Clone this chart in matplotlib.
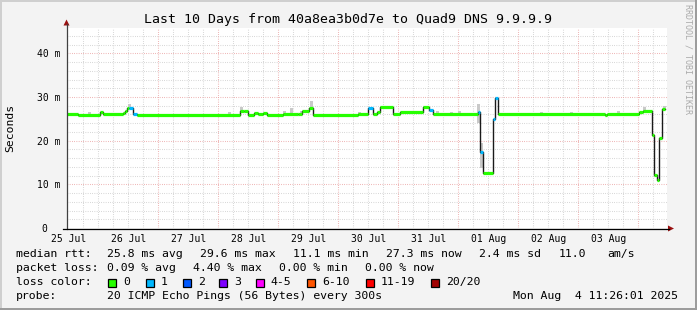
import matplotlib
matplotlib.use('Agg')
import matplotlib.pyplot as plt
from matplotlib.patches import Rectangle, Polygon

# time axis: hours after Fri Jul 25 11:26:01 2025 (10 days window)
seg_hours = [0.0, 4.4, 13.2, 14.4, 22.4, 23.2, 24.0, 24.8, 26.4, 28.0,
             69.2, 70.8, 72.4, 74.8, 76.4, 78.4, 80.0, 86.4, 92.4, 94.0,
             96.8, 98.4, 116.4, 120.4, 122.4, 124.0, 125.2, 130.4, 133.2, 142.4,
             144.8, 146.4, 164.4, 165.2, 166.4, 170.4, 171.2, 172.4, 215.2, 216.0,
             228.8, 230.4, 234.0, 234.8, 236.0, 236.8, 238.0, 239.2]
median_ms = [26.1, 25.9, 26.5, 26.1, 26.4, 26.9, 27.4, 27.5, 26.0, 25.9,
             26.9, 26.7, 25.9, 26.4, 26.1, 26.4, 25.9, 26.1, 26.2, 26.7,
             27.4, 25.9, 26.2, 27.5, 26.1, 26.6, 27.6, 26.0, 26.6, 27.6,
             27.0, 26.1, 26.5, 17.5, 12.6, 24.9, 29.7, 26.1, 25.9, 26.1,
             26.6, 26.8, 21.3, 12.2, 11.0, 20.6, 27.3]
loss_class = [0, 0, 0, 0, 0, 0, 0, 1, 1, 0,
              0, 0, 0, 0, 0, 0, 0, 0, 0, 0,
              0, 0, 0, 1, 0, 0, 0, 0, 0, 0,
              1, 0, 1, 1, 0, 1, 1, 0, 0, 0,
              0, 0, 0, 0, 0, 0, 0]

# smoke (ping spread) patches
smoke_hours = [8.4, 24.4, 64.4, 69.2, 86.4, 89.2, 93.2, 97.2, 116.4, 127.2,
               147.6, 153.2, 156.4, 164.0, 164.0, 165.2, 189.2, 201.2, 220.0, 230.4, 238.4]
smoke_lo = [26.0, 27.6, 25.9, 26.9, 26.1, 26.1, 26.2, 27.4, 26.2, 27.6,
            26.1, 26.1, 26.1, 26.5, 24.0, 13.8, 26.1, 26.1, 26.1, 26.8, 27.3]
smoke_hi = [26.6, 28.3, 26.5, 27.6, 26.9, 27.4, 26.9, 29.0, 26.6, 28.0,
            26.9, 26.5, 26.8, 28.3, 26.5, 19.5, 26.5, 26.5, 26.9, 27.6, 28.0]

day_labels = ['25 Jul', '26 Jul', '27 Jul', '28 Jul', '29 Jul',
              '30 Jul', '31 Jul', '01 Aug', '02 Aug', '03 Aug']
first_noon = 0.566
first_midnight = 12.566

loss_names = ['0', '1', '2', '3', '4-5', '6-10', '11-19', '20/20']
loss_colors = ['#26ff00', '#00b8ff', '#0059ff', '#7e00ff', '#ff00ff', '#ff5500', '#ff0000', '#a10000']

W, H = 697, 310
MONO = 'DejaVu Sans Mono'
plt.rcParams['font.family'] = MONO


def fx(x):
    return x / W


def fy(y):
    return 1 - y / H


fig = plt.figure(figsize=(W / 100, H / 100), dpi=100)
fig.patch.set_facecolor('#f3f3f3')

# 3d-ish border
fig.patches.append(Rectangle((0, fy(2)), 1, 2 / H, transform=fig.transFigure, color='#cfcfcf', lw=0))
fig.patches.append(Rectangle((0, 0), 2 / W, 1, transform=fig.transFigure, color='#cfcfcf', lw=0))
fig.patches.append(Rectangle((0, 0), 1, 2 / H, transform=fig.transFigure, color='#9c9c9c', lw=0))
fig.patches.append(Rectangle((1 - 2 / W, 0), 2 / W, 1, transform=fig.transFigure, color='#9c9c9c', lw=0))

ax = fig.add_axes([fx(67), fy(228), 600 / W, 200 / H])
ax.set_facecolor('white')
ax.set_xlim(0, 240)
ax.set_ylim(0, 45.8)
for s in ax.spines.values():
    s.set_visible(False)

# grid
dots = (0, (0.72, 1.44))
for v in range(2, 46, 2):
    if v % 10 == 0:
        ax.axhline(v, color='#eba3a3', lw=0.75, ls=dots, zorder=1)
    else:
        ax.axhline(v, color='#cdcdcd', lw=0.75, ls=dots, zorder=0.5)
h = first_noon + 6
while h < 240:
    if abs((h - first_midnight) % 24) < 0.01:
        ax.axvline(h, color='#eba3a3', lw=0.75, ls=dots, zorder=1)
    else:
        ax.axvline(h, color='#cdcdcd', lw=0.75, ls=dots, zorder=0.5)
    h += 6

# smoke
for t, lo, hi in zip(smoke_hours, smoke_lo, smoke_hi):
    ax.bar(t, hi - lo, bottom=lo, width=1.2, align='edge', color='#c9c9c9', lw=0, zorder=2)

# median: thin black step line, then loss-coloured segments
xs, ys = [], []
for i, v in enumerate(median_ms):
    xs += [seg_hours[i], seg_hours[i + 1]]
    ys += [v, v]
ax.plot(xs, ys, color='#1a1a1a', lw=1.0, zorder=3)
for i, v in enumerate(median_ms):
    ax.plot([seg_hours[i], seg_hours[i + 1]], [v, v], color=loss_colors[loss_class[i]],
            lw=2.3, solid_capstyle='butt', zorder=4)

# ticks
ax.set_yticks([0, 10, 20, 30, 40])
ax.set_yticklabels(['0  ', '10 m', '20 m', '30 m', '40 m'])
ax.set_xticks([first_noon + 24 * k for k in range(len(day_labels))])
ax.set_xticklabels(day_labels)
ax.tick_params(axis='both', length=0, labelsize=7, colors='#000000')
ax.tick_params(axis='y', pad=5)
ax.tick_params(axis='x', pad=4)

# axis lines + arrows
fig.add_artist(plt.Line2D([fx(66.5), fx(66.5)], [fy(229), fy(24)], transform=fig.transFigure,
                          color='#404040', lw=0.9))
fig.add_artist(plt.Line2D([fx(63), fx(669)], [fy(228.5), fy(228.5)], transform=fig.transFigure,
                          color='#000000', lw=0.9))
fig.patches.append(Polygon([(fx(66.5), fy(19.5)), (fx(63.5), fy(25.5)), (fx(69.5), fy(25.5))],
                           closed=True, transform=fig.transFigure, color='#9a1010', lw=0))
fig.patches.append(Polygon([(fx(674), fy(228.5)), (fx(668), fy(225.5)), (fx(668), fy(231.5))],
                           closed=True, transform=fig.transFigure, color='#9a1010', lw=0))

# titles
fig.text(fx(348.5), fy(19), 'Last 10 Days from 40a8ea3b0d7e to Quad9 DNS 9.9.9.9',
         ha='center', va='center', fontsize=9.5)
fig.text(fx(10.5), fy(127.5), 'Seconds', rotation=90, ha='center', va='center', fontsize=8.2)
fig.text(fx(688), fy(4), 'RRDTOOL / TOBI OETIKER', rotation=270, ha='center', va='top',
         fontsize=6, color='#aaaaaa')

# legend rows
fs = 8.25
rows = [
    (254.3, [(16, 'median rtt:'), (107.3, '25.8 ms avg'), (200, '29.6 ms max'),
             (293.3, '11.1 ms min'), (386, '27.3 ms now'), (479, '2.4 ms sd'),
             (558.3, '11.0'), (607.7, 'am/s')]),
    (268.3, [(16, 'packet loss:'), (107.3, '0.09 % avg'), (193.3, '4.40 % max'),
             (279.3, '0.00 % min'), (365, '0.00 % now')]),
    (296, [(16, 'probe:'), (107.3, '20 ICMP Echo Pings (56 Bytes) every 300s'),
           (513.3, 'Mon Aug  4 11:26:01 2025')]),
]
for y, items in rows:
    for x, s in items:
        fig.text(fx(x), fy(y), s, ha='left', va='center', fontsize=fs)

fig.text(fx(16), fy(282.3), 'loss color:', ha='left', va='center', fontsize=fs)
box_x = [108.3, 145.7, 182.7, 219, 255.7, 307.3, 365.7, 431]
for bx, name, col in zip(box_x, loss_names, loss_colors):
    fig.patches.append(Rectangle((fx(bx), fy(286.5)), 8 / W, 8 / H, transform=fig.transFigure,
                                 facecolor=col, edgecolor='black', lw=0.9))
    fig.text(fx(bx + 15), fy(282.3), name, ha='left', va='center', fontsize=fs)

fig.savefig('out.png', dpi=100, facecolor=fig.get_facecolor())
